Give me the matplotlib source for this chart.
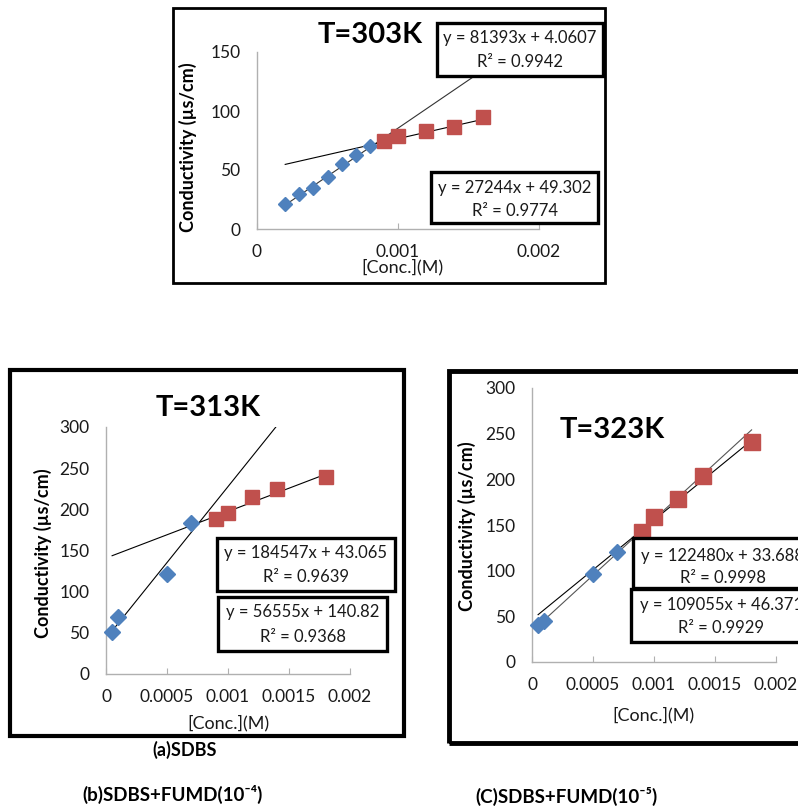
import numpy as np
import matplotlib
matplotlib.use("Agg")
import matplotlib.pyplot as plt
from matplotlib.patches import Rectangle

plt.rcParams['font.family'] = ['Lato', 'DejaVu Sans']

W, H = 798, 807

# T=303K
x303_blue = [0.0002, 0.0003, 0.0004, 0.0005, 0.0006, 0.0007, 0.0008]
y303_blue = [21, 30, 35, 44, 55, 63, 70]
x303_red = [0.0009, 0.001, 0.0012, 0.0014, 0.0016]
y303_red = [75, 79, 83, 86.5, 94.5]

# T=313K
x313_blue = [0.00005, 0.0001, 0.0005, 0.0007]
y313_blue = [51, 69, 121, 183]
x313_red = [0.0009, 0.001, 0.0012, 0.0014, 0.0018]
y313_red = [188, 196, 215, 225, 239]

# T=323K
x323_blue = [0.00005, 0.0001, 0.0005, 0.0007]
y323_blue = [40, 45, 96, 120]
x323_red = [0.0009, 0.001, 0.0012, 0.0014, 0.0018]
y323_red = [142, 159, 179, 204, 241]

BLUE = '#4F81BD'
RED = '#C0504D'
GRID = '#B0B0B0'
TXT = '#1a1a1a'


def fx(px):
	return px / W


def fy(py):
	return 1 - py / H


def add_ax(fig, l, t, r, b):
	return fig.add_axes([fx(l), fy(b), (r - l) / W, (b - t) / H])


def style_ax(ax, xticks, yticks, xlabels, ylim):
	ax.set_xlim(0, 0.002)
	ax.set_ylim(*ylim)
	ax.set_xticks(xticks)
	ax.set_xticklabels(xlabels)
	ax.set_yticks(yticks)
	for s in ['top', 'right']:
		ax.spines[s].set_visible(False)
	for s in ['left', 'bottom']:
		ax.spines[s].set_color(GRID)
		ax.spines[s].set_linewidth(1.0)
	ax.tick_params(axis='x', direction='in', length=4, color=GRID, pad=11, labelsize=12.5, labelcolor=TXT)
	ax.tick_params(axis='y', length=0, pad=12, labelsize=12.5, labelcolor=TXT)
	ax.patch.set_alpha(0)


def frame(fig, l, t, r, b, lw=2.5):
	fig.patches.append(Rectangle((fx(l), fy(b)), (r - l) / W, (b - t) / H,
		transform=fig.transFigure, fill=False, ec='black', lw=lw, zorder=1))


def eq_box(fig, l, t, r, b, line1, line2, y1, y2, cx=None):
	fig.patches.append(Rectangle((fx(l), fy(b)), (r - l) / W, (b - t) / H,
		transform=fig.transFigure, fc='white', ec='black', lw=2.4, zorder=5))
	if cx is None:
		cx = (l + r) / 2
	fig.text(fx(cx), fy(y1), line1, ha='center', va='center', fontsize=12, color=TXT, zorder=6)
	fig.text(fx(cx), fy(y2), line2, ha='center', va='center', fontsize=12, color=TXT, zorder=6)


def trend(ax, x0, x1, m, c, color='black'):
	xs = np.array([x0, x1])
	ax.plot(xs, m * xs + c, color=color, lw=0.8, zorder=2)


fig = plt.figure(figsize=(W / 100, H / 100), dpi=100)

# ---- top panel, 303K
frame(fig, 173, 8, 605, 283, lw=2)
ax = add_ax(fig, 257, 52, 539, 229)
style_ax(ax, [0, 0.001, 0.002], [0, 50, 100, 150], ['0', '0.001', '0.002'], (0, 150))
trend(ax, 0.0002, 0.0017, 81393, 4.0607, color='#333333')
trend(ax, 0.0002, 0.0016, 27244, 49.302)
ax.plot(x303_blue, y303_blue, 'D', color=BLUE, ms=7.5, zorder=3, clip_on=False)
ax.plot(x303_red, y303_red, 's', color=RED, ms=10, zorder=3, clip_on=False)
fig.text(fx(370), fy(35), 'T=303K', ha='center', va='center', fontsize=21, fontweight='bold')
fig.text(fx(188), fy(147), 'Conductivity (µs/cm)', rotation=90, ha='center', va='center', fontsize=13, fontweight='bold')
fig.text(fx(402), fy(267), '[Conc.](M)', ha='center', va='center', fontsize=13, color=TXT)
eq_box(fig, 437, 23, 603, 76, 'y = 81393x + 4.0607', 'R² = 0.9942', 38, 62)
eq_box(fig, 431, 172, 598, 223, 'y = 27244x + 49.302', 'R² = 0.9774', 188, 211)

# ---- bottom left, 313K
frame(fig, 10, 370, 404, 736, lw=3)
ax = add_ax(fig, 106, 427, 350, 674)
style_ax(ax, [0, 0.0005, 0.001, 0.0015, 0.002], [0, 50, 100, 150, 200, 250, 300],
	['0', '0.0005', '0.001', '0.0015', '0.002'], (0, 300))
trend(ax, 0.00005, 0.0014, 184547, 43.065)
trend(ax, 0.00005, 0.0018, 56555, 140.82)
ax.plot(x313_blue, y313_blue, 'D', color=BLUE, ms=8.5, zorder=3, clip_on=False)
ax.plot(x313_red, y313_red, 's', color=RED, ms=10, zorder=3, clip_on=False)
fig.text(fx(208), fy(408), 'T=313K', ha='center', va='center', fontsize=21, fontweight='bold')
fig.text(fx(43), fy(553), 'Conductivity (µs/cm)', rotation=90, ha='center', va='center', fontsize=13, fontweight='bold')
fig.text(fx(228), fy(723), '[Conc.](M)', ha='center', va='center', fontsize=13, color=TXT)
eq_box(fig, 217, 538, 395, 591, 'y = 184547x + 43.065', 'R² = 0.9639', 553, 577)
eq_box(fig, 218, 597, 387, 651, 'y = 56555x + 140.82', 'R² = 0.9368', 612, 637)

# ---- bottom right, 323K
frame(fig, 449, 371, 820, 743, lw=3.5)
ax = add_ax(fig, 532, 388, 776, 662)
style_ax(ax, [0, 0.0005, 0.001, 0.0015, 0.002], [0, 50, 100, 150, 200, 250, 300],
	['0', '0.0005', '0.001', '0.0015', '0.002'], (0, 300))
trend(ax, 0.00005, 0.0018, 122480, 33.688, color='#555555')
trend(ax, 0.00005, 0.0018, 109055, 46.371)
ax.plot(x323_blue, y323_blue, 'D', color=BLUE, ms=8.5, zorder=3, clip_on=False)
ax.plot(x323_red, y323_red, 's', color=RED, ms=11, zorder=3, clip_on=False)
fig.text(fx(612), fy(430), 'T=323K', ha='center', va='center', fontsize=21, fontweight='bold')
fig.text(fx(467), fy(526), 'Conductivity (µs/cm)', rotation=90, ha='center', va='center', fontsize=13, fontweight='bold')
fig.text(fx(653), fy(715), '[Conc.](M)', ha='center', va='center', fontsize=13, color=TXT)
eq_box(fig, 633, 538, 812, 588, 'y = 122480x + 33.688', 'R² = 0.9998', 556, 578)
eq_box(fig, 631, 589, 812, 642, 'y = 109055x + 46.371', 'R² = 0.9929', 605, 628)

# captions
fig.text(fx(185), fy(750), '(a)SDBS', ha='center', va='center', fontsize=13, fontweight='bold')
fig.text(fx(173), fy(794), '(b)SDBS+FUMD(10⁻⁴)', ha='center', va='center', fontsize=13.5, fontweight='bold')
fig.text(fx(567), fy(796), '(C)SDBS+FUMD(10⁻⁵)', ha='center', va='center', fontsize=13.5, fontweight='bold')

fig.savefig('out.png', dpi=100)
